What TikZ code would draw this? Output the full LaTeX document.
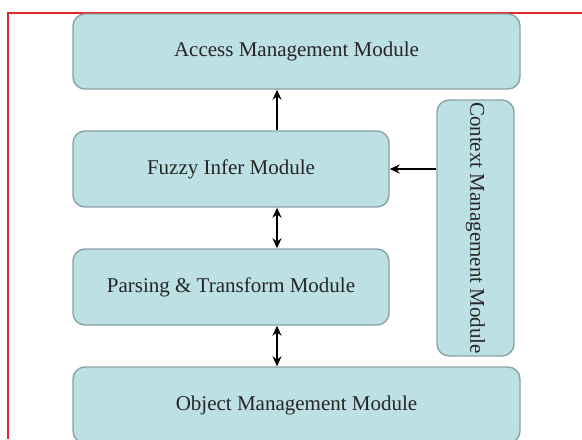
\documentclass[tikz,border=0pt]{standalone}
\usepackage{fontspec}
\setmainfont{Liberation Serif}
\usetikzlibrary{positioning}
\usetikzlibrary{arrows.meta}
\definecolor{modfill}{HTML}{BCE0E4}
\definecolor{moddraw}{HTML}{8AA3A6}
\definecolor{framered}{HTML}{E02626}
\tikzset{
    module/.style={shape=rectangle,rounded corners=6pt,draw=moddraw,fill=modfill,line width=0.7pt,font=\fontsize{10.5}{12}\selectfont,text=black!85},
    link/.style={line width=1pt,-{Stealth[length=5pt, width=4.5pt]}},
    duplex/.style={line width=1pt,{Stealth[length=5pt, width=4.5pt]}-{Stealth[length=5pt, width=4.5pt]}}
}

\begin{document}
\begin{tikzpicture}[x=0.5pt,y=-0.5pt]
    \useasboundingbox[fill=white] (0,0) rectangle (582,439);
    \draw[framered,line width=1pt] (8,439) -- (8,13) -- (582,13);

    \node[module,minimum width=223.5pt,minimum height=37.5pt] (access) at (296.5,51.5) {Access Management Module};
    \node[module,minimum width=158pt,minimum height=38pt] (fuzzy) at (231,169) {Fuzzy Infer Module};
    \node[module,minimum width=158pt,minimum height=38pt] (parsing) at (231,287) {Parsing \& Transform Module};
    \node[module,minimum width=223.5pt,minimum height=38pt] (object) at (296.5,405) {Object Management Module};
    \node[module,minimum width=126.5pt,minimum height=38.5pt,inner xsep=1pt,rotate=-90] (context) at (475.5,228) {Context Management Module};

    \draw [link] ([xshift=23pt]fuzzy.north) -- ([xshift=23pt]fuzzy.north |- access.south);
    \draw [duplex] ([xshift=23pt]fuzzy.south) -- ([xshift=23pt]fuzzy.south |- parsing.north);
    \draw [duplex] ([xshift=23pt]parsing.south) -- ([xshift=23pt]parsing.south |- object.north);
    \draw [link] (context.south |- fuzzy.east) -- (fuzzy.east);
\end{tikzpicture}
\end{document}
